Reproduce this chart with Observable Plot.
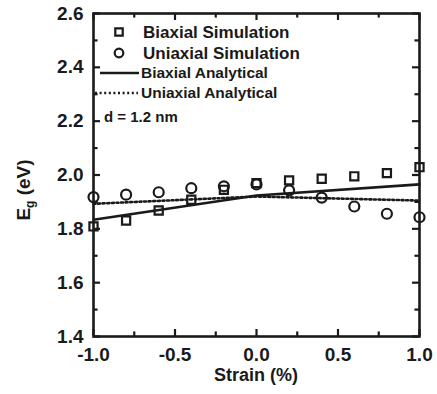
<!DOCTYPE html>
<html><head><meta charset="utf-8">
<script src="https://cdn.jsdelivr.net/npm/d3@7"></script>
<script src="https://cdn.jsdelivr.net/npm/@observablehq/plot@0.6"></script>
<style>
html,body{margin:0;padding:0;background:#fff;}
svg{font-family:"Liberation Sans",Arial,sans-serif;font-weight:bold;}
</style>
</head><body>
<div id="chart"></div>
<script>
const strain = [-1.0,-0.8,-0.6,-0.4,-0.2,0.0,0.2,0.4,0.6,0.8,1.0];
const biaxialSim = [1.809,1.831,1.868,1.908,1.945,1.970,1.980,1.986,1.995,2.007,2.029];
const uniaxialSim = [1.918,1.927,1.936,1.951,1.958,1.965,1.943,1.916,1.883,1.856,1.843];
const analyticStrain = [-1.0,0.0,1.0];
const biaxialAna = [1.834,1.924,1.965];
const uniaxialAna = [1.893,1.920,1.905];
const xTicks = [-1.0,-0.5,0.0,0.5,1.0];
const xMinor = [-0.75,-0.25,0.25,0.75];
const yTicks = [1.4,1.6,1.8,2.0,2.2,2.4,2.6];
const yMinor = [1.5,1.7,1.9,2.1,2.3,2.5];
const legendLabels = ["Biaxial Simulation","Uniaxial Simulation","Biaxial Analytical","Uniaxial Analytical"];
const note = "d = 1.2 nm";

const sim = strain.map((s,i)=>({s, b: biaxialSim[i], u: uniaxialSim[i]}));
const ana = analyticStrain.map((s,i)=>({s, b: biaxialAna[i], u: uniaxialAna[i]}));
const ink = "#1a1a1a";
const fmt = d => d.toFixed(1);
const [xLo, xHi] = [-1, 1], [yLo, yHi] = [1.4, 2.6];
// inward tick lengths in data units (≈7px major, ≈4.5px minor)
const tyMaj = 0.026, tyMin = 0.017, txMaj = 0.043, txMin = 0.028;

const tickRules = [
  Plot.ruleX(xTicks, {x: d => d, y1: yLo, y2: yLo + tyMaj, stroke: ink, strokeWidth: 2.2}),
  Plot.ruleX(xTicks, {x: d => d, y1: yHi, y2: yHi - tyMaj, stroke: ink, strokeWidth: 2.2}),
  Plot.ruleX(xMinor, {x: d => d, y1: yLo, y2: yLo + tyMin, stroke: ink, strokeWidth: 2.2}),
  Plot.ruleX(xMinor, {x: d => d, y1: yHi, y2: yHi - tyMin, stroke: ink, strokeWidth: 2.2}),
  Plot.ruleY(yTicks, {y: d => d, x1: xLo, x2: xLo + txMaj, stroke: ink, strokeWidth: 2.2}),
  Plot.ruleY(yTicks, {y: d => d, x1: xHi, x2: xHi - txMaj, stroke: ink, strokeWidth: 2.2}),
  Plot.ruleY(yMinor, {y: d => d, x1: xLo, x2: xLo + txMin, stroke: ink, strokeWidth: 2.2}),
  Plot.ruleY(yMinor, {y: d => d, x1: xHi, x2: xHi - txMin, stroke: ink, strokeWidth: 2.2})
];

const plot = Plot.plot({
  width: 437, height: 394,
  marginLeft: 93, marginRight: 18, marginTop: 13, marginBottom: 58,
  x: {domain: [xLo, xHi]},
  y: {domain: [yLo, yHi]},
  style: {fontFamily: '"Liberation Sans", Arial, sans-serif', fontWeight: "bold", color: ink, background: "#fff"},
  marks: [
    Plot.axisX(xTicks, {anchor: "bottom", tickSize: 0, tickPadding: 11, tickFormat: fmt, fontSize: 19, fontWeight: "bold", label: null}),
    Plot.axisY(yTicks, {anchor: "left", tickSize: 0, tickPadding: 10, tickFormat: fmt, fontSize: 19, fontWeight: "bold", label: null}),
    ...tickRules,
    Plot.lineY(ana, {x: "s", y: "u", stroke: ink, strokeWidth: 2.6, strokeDasharray: "2,2.6"}),
    Plot.lineY(ana, {x: "s", y: "b", stroke: ink, strokeWidth: 2.6}),
    Plot.dot(sim, {x: "s", y: "b", symbol: "square", r: 4.6, stroke: ink, strokeWidth: 2.2, fill: "none"}),
    Plot.dot(sim, {x: "s", y: "u", symbol: "circle", r: 5, stroke: ink, strokeWidth: 2.2, fill: "none"}),
    Plot.frame({stroke: ink, strokeWidth: 2.6})
  ]
});
document.getElementById("chart").appendChild(plot);

const svg = d3.select(plot);
svg.append("text").attr("x", 256).attr("y", 381).attr("text-anchor", "middle")
  .attr("font-size", 18).attr("font-weight", "bold").attr("fill", ink).text("Strain (%)");
const yl = svg.append("text").attr("transform", "translate(30,190) rotate(-90)")
  .attr("text-anchor", "middle").attr("font-size", 19).attr("font-weight", "bold").attr("fill", ink);
yl.append("tspan").text("E");
yl.append("tspan").attr("font-size", 12).attr("dy", 4).text("g");
yl.append("tspan").attr("dy", -4).text(" (eV)");

const lg = svg.append("g").attr("fill", ink).attr("text-anchor", "start").attr("font-weight", "bold");
lg.append("path").attr("d", d3.symbol(d3.symbolSquare, Math.pow(4.2,2)*Math.PI)())
  .attr("transform", "translate(119,32)").attr("fill", "none").attr("stroke", ink).attr("stroke-width", 2.2);
lg.append("circle").attr("cx", 119).attr("cy", 53).attr("r", 4.3).attr("fill", "none").attr("stroke", ink).attr("stroke-width", 2.2);
lg.append("line").attr("x1", 100).attr("x2", 139).attr("y1", 73).attr("y2", 73).attr("stroke", ink).attr("stroke-width", 2.6);
lg.append("line").attr("x1", 95).attr("x2", 138).attr("y1", 93).attr("y2", 93).attr("stroke", ink).attr("stroke-width", 2.6).attr("stroke-dasharray", "2,2.6");
lg.append("text").attr("x", 143).attr("y", 38).attr("font-size", 17).text(legendLabels[0]);
lg.append("text").attr("x", 143).attr("y", 59).attr("font-size", 17).text(legendLabels[1]);
lg.append("text").attr("x", 141).attr("y", 78).attr("font-size", 15.5).text(legendLabels[2]);
lg.append("text").attr("x", 141).attr("y", 98).attr("font-size", 15.5).text(legendLabels[3]);
lg.append("text").attr("x", 104).attr("y", 122).attr("font-size", 15).text(note);
</script>
</body></html>
